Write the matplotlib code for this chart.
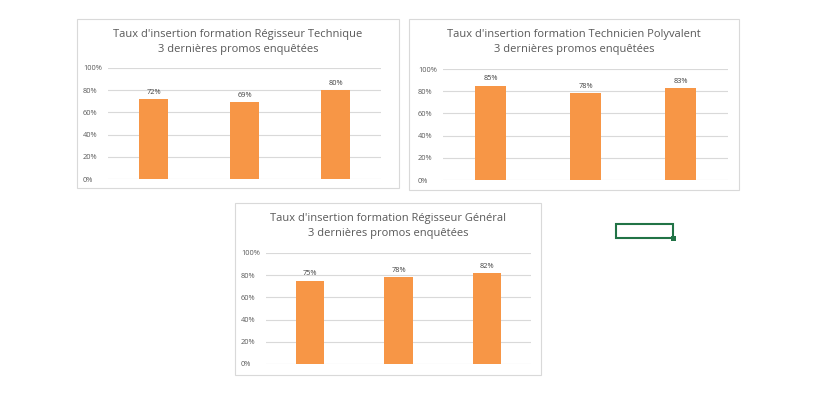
import matplotlib
matplotlib.use("Agg")
import matplotlib.pyplot as plt
from matplotlib.patches import Rectangle

W, H = 828, 394

titles = [
    "Taux d'insertion formation Régisseur Technique\n3 dernières promos enquêtées",
    "Taux d'insertion formation Technicien Polyvalent\n3 dernières promos enquêtées",
    "Taux d'insertion formation Régisseur Général\n3 dernières promos enquêtées",
]
promos = ["P1", "P2", "P3"]
rt_values = [72, 69, 80]
tp_values = [85, 78, 83]
rg_values = [75, 78, 82]
all_values = [rt_values, tp_values, rg_values]

# boxes (x0, y0, x1, y1) and plot areas in pixels, measured on the reference
boxes = [(77, 19, 399, 188), (409, 19, 739, 190), (235, 203, 541, 375)]
plots = [(108, 68, 381, 179), (443, 69, 728, 180), (266, 253, 531, 364)]

plt.rcParams['font.family'] = ['Open Sans', 'DejaVu Sans']
fig = plt.figure(figsize=(W / 100, H / 100), dpi=100)
fig.patch.set_facecolor("white")


def px(x0, y0, x1, y1):
    return [x0 / W, 1 - y1 / H, (x1 - x0) / W, (y1 - y0) / H]


for box, area, title, vals in zip(boxes, plots, titles, all_values):
    x0, y0, x1, y1 = box
    fig.patches.append(Rectangle((x0 / W, 1 - y1 / H), (x1 - x0) / W, (y1 - y0) / H,
                                 transform=fig.transFigure, fill=False,
                                 edgecolor="#d9d9d9", linewidth=0.8))
    fig.text((x0 + x1) / 2 / W, 1 - (y0 + 23) / H, title, ha="center", va="center",
             fontsize=8.0, color="#595959", linespacing=1.4)

    ax = fig.add_axes(px(*area))
    ax.bar(range(len(vals)), vals, width=0.32, color="#f79646", zorder=3)
    ax.set_xlim(-0.5, len(vals) - 0.5)
    ax.set_ylim(0, 100)
    ax.set_yticks(range(0, 101, 20))
    ax.set_yticklabels([f"{v}%" for v in range(0, 101, 20)], fontsize=5.3, color="#595959")
    ax.set_xticks([])
    ax.grid(axis="y", color="#d9d9d9", linewidth=0.8, zorder=0)
    for s in ax.spines.values():
        s.set_visible(False)
    ax.tick_params(axis="y", length=0, pad=18)
    for lbl in ax.get_yticklabels():
        lbl.set_horizontalalignment("left")
    for i, v in enumerate(vals):
        ax.text(i, v + 3, f"{v}%", ha="center", va="bottom", fontsize=5.3, color="#404040")
    ax.set_facecolor("none")

# excel cell selection
fig.patches.append(Rectangle((616 / W, 1 - 238 / H), 57 / W, 14 / H,
                             transform=fig.transFigure, fill=False,
                             edgecolor="#217346", linewidth=1.5))
fig.patches.append(Rectangle((671 / W, 1 - 241 / H), 5 / W, 5 / H,
                             transform=fig.transFigure, facecolor="#217346",
                             edgecolor="none"))

fig.savefig("out.png", dpi=100)
